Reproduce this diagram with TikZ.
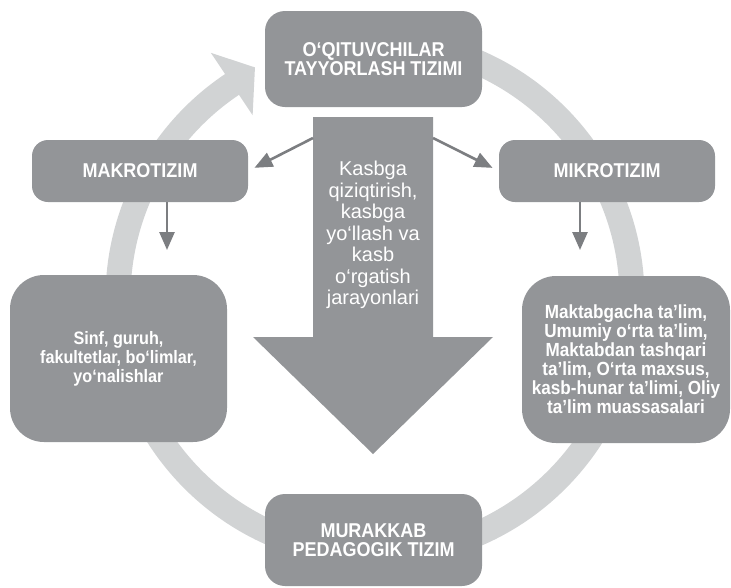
\documentclass[tikz,border=0pt]{standalone}
\usepackage{fontspec}
\setmainfont{Liberation Sans}
\newfontfamily\boxfont[FakeStretch=0.9]{Liberation Sans}
\usetikzlibrary{arrows.meta}
\definecolor{boxgray}{RGB}{147,149,152}
\definecolor{ringgray}{RGB}{209,211,212}
\definecolor{linkgray}{RGB}{124,126,129}
\tikzset{
  box/.style={fill=boxgray,rounded corners=#1,text=white,align=center,inner sep=0pt,
    font=\boxfont\bfseries\fontsize{18}{19}\selectfont},
  box/.default=16pt,
  title/.style={font=\boxfont\bfseries\fontsize{20}{19.5}\selectfont},
  link/.style={draw=linkgray,line width=2.6pt,-{Triangle[length=18pt,width=15pt]}}
}
\begin{document}
\begin{tikzpicture}[x=1pt,y=-1pt]
\useasboundingbox (0,0) rectangle (731,587);
% ring with its arrow head
\begin{scope}[shift={(375,298)}]
\def\r{257}
\draw[ringgray,line width=25pt](-90:\r)arc[start angle=-90,end angle=237,radius=\r];
\fill[ringgray](236.2:295)--(242.5:260)--(236.2:220)--cycle;
\end{scope}
% big arrow
\fill[boxgray](313,117)--++(120,0)--++(0,220)--++(60,0)--(373,454)--++(-120,-117)--++(60,0)--cycle;
\node[text=white,align=center,font=\fontsize{20}{21.5}\selectfont] (flow) at (373,235)
  {Kasbga\\qiziqtirish,\\kasbga\\yo‘llash va\\kasb\\o‘rgatish\\jarayonlari};
\coordinate (shaftL) at (313,138);
\coordinate (shaftR) at (433,138);
% boxes
\node[box=20pt,title,minimum width=217pt,minimum height=96pt] (teacher) at (373.5,59)
  {O‘QITUVCHILAR\\TAYYORLASH TIZIMI};
\node[box,title,minimum width=216pt,minimum height=62pt] (makro) at (140,171) {MAKROTIZIM};
\node[box,title,minimum width=216pt,minimum height=62pt] (mikro) at (607,171) {MIKROTIZIM};
\node[box=34pt,minimum width=217pt,minimum height=167pt] (groups) at (118.5,358.5)
  {Sinf, guruh,\\fakultetlar, bo‘limlar,\\yo‘nalishlar};
\node[box=34pt,minimum width=208pt,minimum height=167pt,font=\boxfont\bfseries\fontsize{19}{19}\selectfont]
  (schools) at (626,359.5)
  {Maktabgacha ta’lim,\\Umumiy o‘rta ta’lim,\\Maktabdan tashqari\\ta’lim, O‘rta maxsus,\\kasb-hunar ta’limi, Oliy\\ta’lim muassasalari};
\node[box=20pt,title,minimum width=217pt,minimum height=92pt] (complex) at (373.5,540)
  {MURAKKAB\\PEDAGOGIK TIZIM};
% links
\draw[link,shorten >=7pt](shaftL)--(makro.east);
\draw[link,shorten >=7pt](shaftR)--(mikro.west);
\coordinate (makroend) at (167,250);
\coordinate (mikroend) at (580,250);
\draw[link](makro.south-|makroend)--(makroend);
\draw[link](mikro.south-|mikroend)--(mikroend);
\end{tikzpicture}
\end{document}
